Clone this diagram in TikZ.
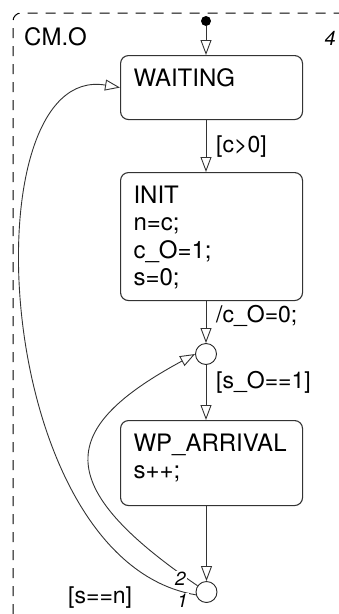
\documentclass[tikz,border=0pt]{standalone}
\usepackage{fontspec}
\setmainfont{TeX Gyre Heros}
\usetikzlibrary{arrows.meta, positioning, calc}

\tikzset{
  statebox/.style={draw=black!80, line width=1.1pt, rounded corners=8pt, anchor=north west, minimum width=182pt, inner sep=13pt, font=\fontsize{24}{27.5}\selectfont},
  trans/.style={draw=black!80, line width=0.9pt, -{Triangle[open, length=15pt, width=11pt]}},
  junction/.style={circle, draw=black!85, line width=0.9pt, minimum size=21pt, inner sep=0pt},
  translabel/.style={font=\fontsize{23}{27}\selectfont, inner sep=0pt},
  order/.style={font=\itshape\fontsize{19}{19}\selectfont, fill=white, inner sep=1pt},
}
\newcommand{\statebody}[2]{\parbox[c][#1][t]{156pt}{#2}}

\begin{document}
\begin{tikzpicture}[x=1pt, y=-1pt]
      \useasboundingbox (0,0) rectangle (339,614);
      \clip (0,0) rectangle (339,614);
      % chart border
      \draw[black, line width=1pt, dash pattern=on 10pt off 8pt, rounded corners=8pt] (13,650) -- (13,13) -- (360,13);
      \node[anchor=base west, inner sep=0pt, font=\fontsize{24}{27}\selectfont] (chart) at (24,45) {CM.O};
      \node[anchor=base east, inner sep=0pt, font=\itshape\fontsize{20}{20}\selectfont] (chartnum) at (336,45) {4};

      % states
      \node[statebox] (waiting) at (120,55) {\statebody{38pt}{WAITING}};
      \node[statebox] (initst) at (120,172) {\statebody{102pt}{INIT\\n=c;\\c\_O=1;\\s=0;}};
      \node[statebox] (wparr) at (120,420) {\statebody{59pt}{WP\_ARRIVAL\\s++;}};

      % default transition and junctions
      \node[circle, fill=black, minimum size=10pt, inner sep=0pt] (dflt) at (206,21) {};
      \node[junction] (j1) at (206,354) {};
      \node[junction] (j2) at (206.5,592) {};

      % transitions
      \draw[trans] (dflt) -- (dflt |- waiting.north);
      \draw[trans] (dflt |- waiting.south) -- (dflt |- initst.north);
      \draw[trans] (j1 |- initst.south) -- (j1);
      \draw[trans] (j1) -- (j1 |- wparr.north);
      \draw[trans] (j2 |- wparr.south) -- (j2);
      \draw[trans] (j2.195) .. controls (-10,560) and (-32,62) .. (waiting.west);
      \draw[trans] (j2.145) .. controls (50,485) and (58,428) .. (j1.west);

      %label
      \node[translabel, anchor=base west] (lc) at (216,152) {[c>0]};
      \node[translabel, anchor=base west] (lco) at (216,322) {/c\_O=0;};
      \node[translabel, anchor=base west] (lso) at (216,388) {[s\_O==1]};
      \node[translabel, anchor=base west] (lsn) at (68,603) {[s==n]};
      \node[order, anchor=base west] (ord2) at (174,585) {2};
      \node[order, anchor=base west] (ord1) at (176,607) {1};
\end{tikzpicture}
\end{document}
